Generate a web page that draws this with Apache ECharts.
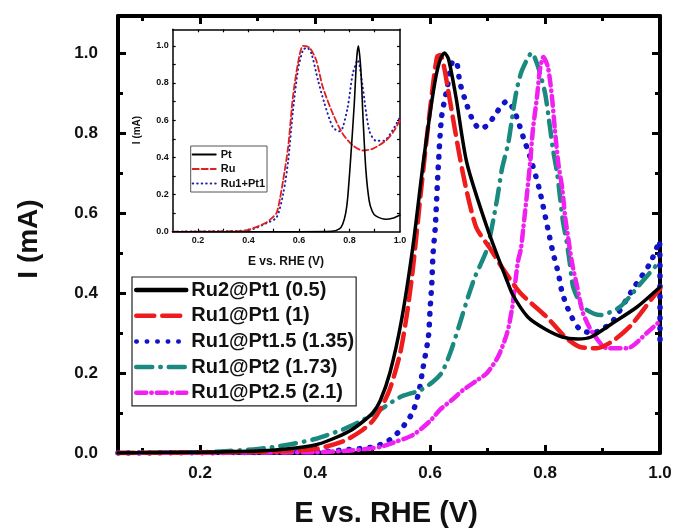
<!DOCTYPE html>
<html>
<head>
<meta charset="utf-8">
<script src="https://cdn.jsdelivr.net/npm/echarts@6/dist/echarts.min.js"></script>
<style>
html,body{margin:0;padding:0;background:#fff;}
#chart{width:677px;height:529px;}
</style>
</head>
<body>
<div id="chart"></div>
<script>
// ---- Main chart data: [E (V), I (mA)] ----
var ru2pt1 = [[0.057,0],[0.2,0.002],[0.3,0.005],[0.35,0.01],[0.4,0.02],[0.43,0.035],[0.46,0.055],[0.48,0.075],[0.5,0.1],[0.513,0.13],[0.53,0.2],[0.55,0.33],[0.57,0.515],[0.588,0.725],[0.6,0.85],[0.61,0.94],[0.618,0.985],[0.625,1.0],[0.632,0.985],[0.645,0.89],[0.664,0.725],[0.7,0.56],[0.734,0.43],[0.744,0.395],[0.77,0.34],[0.8,0.31],[0.83,0.29],[0.856,0.285],[0.88,0.29],[0.918,0.325],[0.96,0.365],[1.0,0.415]];
var ru1pt1 = [[0.057,0],[0.3,0.003],[0.4,0.01],[0.45,0.03],[0.48,0.055],[0.5,0.08],[0.513,0.108],[0.53,0.16],[0.548,0.25],[0.56,0.35],[0.57,0.46],[0.586,0.68],[0.6,0.86],[0.612,0.99],[0.618,0.995],[0.625,0.96],[0.631,0.91],[0.657,0.7],[0.68,0.565],[0.705,0.51],[0.727,0.46],[0.757,0.4],[0.803,0.34],[0.835,0.29],[0.861,0.265],[0.89,0.262],[0.918,0.28],[0.95,0.32],[0.988,0.39],[1.0,0.41]];
var ru1pt15 = [[0.057,0],[0.4,0.003],[0.47,0.01],[0.5,0.015],[0.525,0.028],[0.548,0.057],[0.569,0.1],[0.58,0.15],[0.588,0.215],[0.597,0.29],[0.6,0.36],[0.603,0.425],[0.605,0.495],[0.609,0.565],[0.614,0.71],[0.62,0.84],[0.63,0.915],[0.638,0.975],[0.645,0.98],[0.652,0.925],[0.664,0.87],[0.675,0.83],[0.687,0.81],[0.7,0.82],[0.713,0.845],[0.725,0.87],[0.734,0.88],[0.745,0.86],[0.753,0.83],[0.762,0.79],[0.774,0.74],[0.79,0.66],[0.805,0.56],[0.814,0.5],[0.823,0.45],[0.83,0.4],[0.843,0.35],[0.86,0.31],[0.883,0.3],[0.9,0.31],[0.918,0.33],[0.953,0.41],[0.983,0.475],[0.999,0.53],[1.0,0.4],[1.0,0.26]];
var ru1pt2 = [[0.057,0],[0.2,0.002],[0.25,0.005],[0.3,0.01],[0.35,0.02],[0.4,0.035],[0.45,0.06],[0.48,0.08],[0.513,0.108],[0.548,0.14],[0.583,0.157],[0.605,0.178],[0.62,0.2],[0.635,0.25],[0.652,0.325],[0.666,0.39],[0.678,0.44],[0.699,0.51],[0.716,0.63],[0.725,0.71],[0.736,0.775],[0.745,0.86],[0.751,0.91],[0.76,0.957],[0.777,1.0],[0.788,0.965],[0.8,0.9],[0.809,0.81],[0.814,0.757],[0.821,0.7],[0.826,0.64],[0.831,0.58],[0.838,0.525],[0.843,0.475],[0.849,0.415],[0.866,0.365],[0.896,0.345],[0.93,0.365],[0.97,0.43],[1.0,0.48]];
var ru1pt25 = [[0.057,0],[0.4,0.002],[0.45,0.005],[0.5,0.012],[0.513,0.015],[0.54,0.028],[0.57,0.045],[0.6,0.08],[0.617,0.108],[0.64,0.135],[0.657,0.157],[0.68,0.18],[0.699,0.2],[0.718,0.24],[0.734,0.3],[0.743,0.365],[0.748,0.425],[0.753,0.48],[0.758,0.51],[0.762,0.56],[0.768,0.64],[0.774,0.725],[0.779,0.81],[0.786,0.89],[0.791,0.957],[0.797,0.99],[0.805,0.965],[0.812,0.89],[0.817,0.81],[0.823,0.725],[0.83,0.66],[0.835,0.59],[0.84,0.54],[0.847,0.475],[0.856,0.415],[0.866,0.35],[0.883,0.3],[0.908,0.262],[0.943,0.262],[0.977,0.3],[1.0,0.33]];

// ---- Inset data ----
var insetPt = [[0.1,0],[0.6,0],[0.73,0.002],[0.76,0.015],[0.773,0.04],[0.785,0.1],[0.793,0.184],[0.806,0.42],[0.819,0.69],[0.828,0.924],[0.835,1.0],[0.845,0.87],[0.854,0.6],[0.865,0.33],[0.878,0.166],[0.89,0.11],[0.904,0.085],[0.944,0.067],[0.97,0.072],[1.0,0.09]];
var insetRu = [[0.1,0],[0.3,0.002],[0.38,0.005],[0.406,0.013],[0.44,0.03],[0.471,0.05],[0.49,0.07],[0.511,0.1],[0.525,0.18],[0.537,0.274],[0.557,0.455],[0.576,0.725],[0.596,0.906],[0.616,1.0],[0.642,0.99],[0.668,0.924],[0.694,0.78],[0.734,0.635],[0.773,0.527],[0.813,0.464],[0.852,0.437],[0.891,0.446],[0.944,0.49],[0.975,0.54],[1.0,0.6]];
var insetRuPt = [[0.1,0],[0.38,0.005],[0.42,0.015],[0.47,0.045],[0.511,0.076],[0.537,0.2],[0.557,0.38],[0.576,0.65],[0.596,0.87],[0.616,0.978],[0.632,0.99],[0.649,0.96],[0.675,0.816],[0.701,0.69],[0.734,0.563],[0.76,0.54],[0.773,0.56],[0.793,0.67],[0.813,0.85],[0.833,0.924],[0.852,0.78],[0.878,0.545],[0.904,0.49],[0.937,0.49],[0.97,0.545],[1.0,0.617]];

// ---- Tick labels ----
var mainXLabels = [0.2,0.4,0.6,0.8,1.0];
var mainXMinor = [0.1,0.3,0.5,0.7,0.9];
var mainYLabels = [0.0,0.2,0.4,0.6,0.8,1.0];
var mainYMinor = [0.1,0.3,0.5,0.7,0.9];
var insetXLabels = [0.2,0.4,0.6,0.8,1.0];
var insetXTicks = [0.2,0.3,0.4,0.5,0.6,0.7,0.8,0.9];
var insetYLabels = [0.0,0.2,0.4,0.6,0.8,1.0];
var insetYTicks = [0.1,0.2,0.3,0.4,0.5,0.6,0.7,0.8,0.9,1.0];

var FONT = '"Liberation Sans", Arial, sans-serif';
var chart = echarts.init(document.getElementById('chart'), null, {renderer:'canvas'});

function fmt(v){ return Number(v).toFixed(1); }

function mkAxis(grid, pos, min, max, opts) {
  return {
    type: 'value', gridIndex: grid, position: pos, min: min, max: max,
    splitLine: {show:false},
    axisLine: {show: opts.line !== false, onZero:false, lineStyle:{color:'#000', width: opts.lw || 4}},
    axisTick: {show: !!opts.ticks, inside:true, length: opts.tlen || 6, customValues: opts.ticks || [], lineStyle:{color:'#000', width: opts.tw || 3}},
    axisLabel: opts.labels ? {show:true, customValues: opts.labels, formatter: fmt, margin: opts.margin, color:'#111',
      fontFamily: FONT, fontWeight:'bold', fontSize: opts.fs} : {show:false}
  };
}

var xAxes = [
  mkAxis(0,'bottom',0.057,1.0,{ticks:mainXLabels, tlen:8, labels:mainXLabels, margin:12, fs:17}),
  mkAxis(0,'bottom',0.057,1.0,{ticks:mainXMinor, tlen:5, line:false}),
  mkAxis(0,'top',0.057,1.0,{ticks:mainXLabels, tlen:8}),
  mkAxis(0,'top',0.057,1.0,{ticks:mainXMinor, tlen:5, line:false}),
  mkAxis(1,'bottom',0.1,1.0,{ticks:insetXTicks, tlen:3, tw:1.2, lw:1.5, labels:insetXLabels, margin:4, fs:9}),
  mkAxis(1,'top',0.1,1.0,{ticks:insetXTicks, tlen:3, tw:1.2, lw:1.5})
];
var yAxes = [
  mkAxis(0,'left',0,1.0925,{ticks:mainYLabels, tlen:8, labels:mainYLabels, margin:20, fs:17}),
  mkAxis(0,'left',0,1.0925,{ticks:mainYMinor, tlen:5, line:false}),
  mkAxis(0,'right',0,1.0925,{ticks:mainYLabels, tlen:8}),
  mkAxis(0,'right',0,1.0925,{ticks:mainYMinor, tlen:5, line:false}),
  mkAxis(1,'left',0,1.089,{ticks:insetYTicks, tlen:3, tw:1.2, lw:1.5, labels:insetYLabels, margin:4, fs:9}),
  mkAxis(1,'right',0,1.089,{ticks:insetYTicks, tlen:3, tw:1.2, lw:1.5})
];

function line(name, data, color, width, dash, xi, z) {
  return {
    name: name, type:'line', data: data, xAxisIndex: xi, yAxisIndex: xi,
    symbol:'none', smooth:0.25, clip:true, z: z || 2,
    lineStyle:{color: color, width: width, type: dash, cap:'round', join:'round'},
    itemStyle:{color: color},
    emphasis:{disabled:true}, animation:false
  };
}

var series = [
  line('Ru2@Pt1 (0.5)', ru2pt1, '#000000', 3.5, 'solid', 0, 5),
  line('Ru1@Pt1 (1)', ru1pt1, '#ee1c1c', 4.5, [18,8], 0, 4),
  line('Ru1@Pt1.5 (1.35)', ru1pt15, '#1212c8', 5.5, [0.5,10], 0, 3),
  line('Ru1@Pt2 (1.73)', ru1pt2, '#1a8a80', 4.5, [16,8,0.5,8], 0, 3),
  line('Ru1@Pt2.5 (2.1)', ru1pt25, '#f020f0', 4.5, [10,5,0.5,5], 0, 3),
  line('Pt', insetPt, '#000000', 1.6, 'solid', 4, 5),
  line('Ru', insetRu, '#e02020', 1.8, [6,3], 4, 4),
  line('Ru1+Pt1', insetRuPt, '#2020a8', 2, [0.5,4], 4, 3)
];

var option = {
  backgroundColor:'#fff',
  animation:false,
  grid:[
    {left:118, right:17, top:16, bottom:76, containLabel:false},
    {left:172.7, right:277, top:29.3, bottom:297.3, containLabel:false}
  ],
  xAxis: xAxes,
  yAxis: yAxes,
  legend:[
    {
      data:['Ru2@Pt1 (0.5)','Ru1@Pt1 (1)','Ru1@Pt1.5 (1.35)','Ru1@Pt2 (1.73)','Ru1@Pt2.5 (2.1)'],
      orient:'vertical', left:132, top:277, itemWidth:50, itemHeight:14, itemGap:5.7,
      padding:[3,2,3,2], borderColor:'#222', borderWidth:1.2, borderRadius:0,
      itemStyle:{opacity:0},
      lineStyle:{width:4.5, cap:'round'},
      textStyle:{fontFamily:FONT, fontWeight:'bold', fontSize:20, color:'#111'},
      selectedMode:false
    },
    {
      data:['Pt','Ru','Ru1+Pt1'],
      orient:'vertical', left:190.7, top:146, itemWidth:23, itemHeight:10, itemGap:3.5,
      padding:[3,2,3,1], borderColor:'#555', borderWidth:1, borderRadius:0,
      itemStyle:{opacity:0},
      lineStyle:{width:2, cap:'round'},
      textStyle:{fontFamily:FONT, fontWeight:'bold', fontSize:11, color:'#111'},
      selectedMode:false
    }
  ],
  graphic:[
    {type:'text', x:386, y:514, style:{text:'E vs. RHE (V)', align:'center', verticalAlign:'middle', font:'bold 29px ' + FONT, fill:'#111'}},
    {type:'text', x:29, y:239, rotation:Math.PI/2, style:{text:'I (mA)', align:'center', verticalAlign:'middle', font:'bold 28px ' + FONT, fill:'#111'}},
    {type:'text', x:286, y:262, style:{text:'E vs. RHE (V)', align:'center', verticalAlign:'middle', font:'bold 12px ' + FONT, fill:'#111'}},
    {type:'text', x:137, y:130, rotation:Math.PI/2, style:{text:'I (mA)', align:'center', verticalAlign:'middle', font:'bold 10px ' + FONT, fill:'#111'}}
  ],
  series: series
};
chart.setOption(option);
</script>
</body>
</html>
